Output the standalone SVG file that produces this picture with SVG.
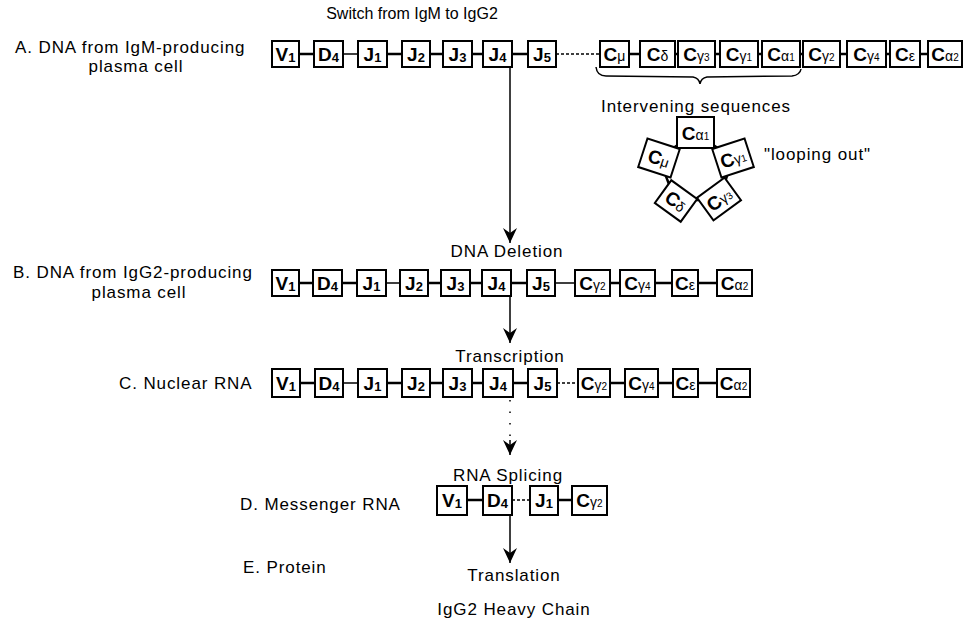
<svg xmlns="http://www.w3.org/2000/svg" width="964" height="621" viewBox="0 0 964 621">
<style>
.bx{fill:#fff;stroke:#000;stroke-width:2}
.bt{font-family:"Liberation Sans",Arial,sans-serif;font-weight:bold;font-size:19px;text-anchor:middle;fill:#000}
.sd{font-size:13px}
.sg{font-size:14px;font-weight:normal}
.sg2{font-size:10px;font-weight:normal}
.lb{font-family:"Liberation Sans",Arial,sans-serif;font-size:17px;letter-spacing:0.9px;fill:#000}
.tt{font-size:16px;letter-spacing:0px}
.mid{text-anchor:middle}
.ln{stroke:#000;stroke-width:2.5;fill:none}
.th{stroke:#000;stroke-width:1.5;fill:none}
.da{stroke:#000;stroke-width:1.5;fill:none;stroke-dasharray:3 2}
.ar{stroke:#000;stroke-width:1.5;fill:none;marker-end:url(#ah)}
.dot{stroke:#000;stroke-width:1.5;fill:none;stroke-dasharray:1.5 10}
</style>
<defs>
<marker id="ah" viewBox="-16 -8 17 16" refX="0" refY="0" markerWidth="17" markerHeight="16" markerUnits="userSpaceOnUse" orient="auto">
<path d="M0,0 L-15,-7 L-10,0 L-15,7 Z" fill="#000"/>
</marker>
</defs>

<g id="labels">
<text class="lb tt mid" x="412" y="19">Switch from IgM to IgG2</text>
<text class="lb" x="15" y="53">A. DNA from IgM-producing</text>
<text class="lb mid" x="136" y="72">plasma cell</text>
<text class="lb" x="13" y="278">B. DNA from IgG2-producing</text>
<text class="lb mid" x="139" y="298">plasma cell</text>
<text class="lb" x="119" y="389">C. Nuclear RNA</text>
<text class="lb" x="240" y="510">D. Messenger RNA</text>
<text class="lb" x="243" y="573">E. Protein</text>
<text class="lb mid" x="696" y="112">Intervening sequences</text>
<text class="lb" x="764" y="160">"looping out"</text>
<text class="lb mid" x="507" y="257">DNA Deletion</text>
<text class="lb mid" x="510" y="362">Transcription</text>
<text class="lb mid" x="508" y="481">RNA Splicing</text>
<text class="lb mid" x="514" y="581">Translation</text>
<text class="lb mid" x="514" y="615">IgG2 Heavy Chain</text>
</g>

<g id="connectors">
<!-- row A -->
<path class="ln" d="M299,54H314M387,54H402M430,54H443M472,54H483M512,54H528M629,54H640M675,54H678M715,54H720M758,54H762M800,54H803M840,54H847M886,54H890M920,54H928"/>
<path class="th" d="M343,54H358"/>
<path class="da" d="M556,54H600"/>
<!-- brace -->
<path class="th" d="M596,67 Q597,76 606,76 L693,77 Q699,78 700,84 Q701,78 707,77 L792,76 Q800,75 801,69"/>
<!-- loop -->
<path class="ln" d="M695,133 L733,158 L719,200 L675,200 L659,158 Z"/>
<!-- row B -->
<path class="ln" d="M299,283H313M342,283H357M428,283H441M470,283H482M511,283H527M610,283H620M655,283H672M698,283H717"/>
<path class="th" d="M386,283H400M555,283H575"/>
<!-- row C -->
<path class="ln" d="M300,383H315M387,383H402M430,383H443M472,383H483M513,383H528M610,383H625M658,383H673M698,383H717"/>
<path class="th" d="M343,383H358"/>
<path class="da" d="M557,383H578"/>
<!-- row D -->
<path class="ln" d="M467,500H483M558,500H572"/>
<path class="da" d="M512,500H530"/>
<!-- arrows -->
<path class="ar" d="M510,68V243"/>
<path class="ar" d="M510,296V343"/>
<path class="dot" d="M510,400V440"/>
<path class="ar" d="M510,440V455"/>
<path class="ar" d="M510,515V563"/>
</g>

<!-- Row A -->
<g id="A-V1"><rect class="bx" x="272" y="41" width="27" height="26"/><text class="bt" x="285.5" y="61">V<tspan class="sd" dy="1">1</tspan></text></g>
<g id="A-D4"><rect class="bx" x="314" y="41" width="29" height="26"/><text class="bt" x="328.5" y="61">D<tspan class="sd" dy="1">4</tspan></text></g>
<g id="A-J1"><rect class="bx" x="358" y="41" width="29" height="26"/><text class="bt" x="372.5" y="61">J<tspan class="sd" dy="1">1</tspan></text></g>
<g id="A-J2"><rect class="bx" x="402" y="41" width="28" height="26"/><text class="bt" x="416" y="61">J<tspan class="sd" dy="1">2</tspan></text></g>
<g id="A-J3"><rect class="bx" x="443" y="41" width="29" height="26"/><text class="bt" x="457.5" y="61">J<tspan class="sd" dy="1">3</tspan></text></g>
<g id="A-J4"><rect class="bx" x="483" y="41" width="29" height="26"/><text class="bt" x="497.5" y="61">J<tspan class="sd" dy="1">4</tspan></text></g>
<g id="A-J5"><rect class="bx" x="528" y="41" width="28" height="26"/><text class="bt" x="542" y="61">J<tspan class="sd" dy="1">5</tspan></text></g>
<g id="A-Cmu"><rect class="bx" x="600" y="41" width="29" height="26"/><text class="bt" x="614.5" y="61">C<tspan class="sg">μ</tspan></text></g>
<g id="A-Cdelta"><rect class="bx" x="640" y="41" width="35" height="26"/><text class="bt" x="657.5" y="61">C<tspan class="sg">δ</tspan></text></g>
<g id="A-Cg3"><rect class="bx" x="678" y="41" width="37" height="26"/><text class="bt" x="696.5" y="61">C<tspan class="sg">γ</tspan><tspan class="sg2">3</tspan></text></g>
<g id="A-Cg1"><rect class="bx" x="720" y="41" width="38" height="26"/><text class="bt" x="739" y="61">C<tspan class="sg">γ</tspan><tspan class="sg2">1</tspan></text></g>
<g id="A-Ca1"><rect class="bx" x="762" y="41" width="38" height="26"/><text class="bt" x="781" y="61">C<tspan class="sg">α</tspan><tspan class="sg2">1</tspan></text></g>
<g id="A-Cg2"><rect class="bx" x="803" y="41" width="37" height="26"/><text class="bt" x="821.5" y="61">C<tspan class="sg">γ</tspan><tspan class="sg2">2</tspan></text></g>
<g id="A-Cg4"><rect class="bx" x="847" y="41" width="39" height="26"/><text class="bt" x="866.5" y="61">C<tspan class="sg">γ</tspan><tspan class="sg2">4</tspan></text></g>
<g id="A-Ceps"><rect class="bx" x="890" y="41" width="30" height="26"/><text class="bt" x="905" y="61">C<tspan class="sg">ε</tspan></text></g>
<g id="A-Ca2"><rect class="bx" x="928" y="41" width="34" height="26"/><text class="bt" x="945" y="61">C<tspan class="sg">α</tspan><tspan class="sg2">2</tspan></text></g>

<!-- Loop -->
<g id="L-Ca1" transform="translate(695.5,132.5)"><rect class="bx" x="-18.5" y="-15.5" width="37" height="31"/><text class="bt" x="0" y="7">C<tspan class="sg">α</tspan><tspan class="sg2">1</tspan></text></g>
<g id="L-Cmu" transform="translate(659,158) rotate(18)"><rect class="bx" x="-17" y="-15" width="34" height="30"/><text class="bt" x="0" y="7">C<tspan class="sg">μ</tspan></text></g>
<g id="L-Cg1" transform="translate(733,158) rotate(-18)"><rect class="bx" x="-17" y="-15" width="34" height="30"/><text class="bt" x="0" y="7">C<tspan class="sg">γ</tspan><tspan class="sg2">1</tspan></text></g>
<g id="L-Cdelta" transform="translate(676,201) rotate(36)"><rect class="bx" x="-16" y="-14" width="32" height="28"/><text class="bt" x="0" y="7">C<tspan class="sg">δ</tspan></text></g>
<g id="L-Cg3" transform="translate(719,199) rotate(-36)"><rect class="bx" x="-17" y="-14" width="34" height="28"/><text class="bt" x="0" y="7">C<tspan class="sg">γ</tspan><tspan class="sg2">3</tspan></text></g>

<!-- Row B -->
<g id="B-V1"><rect class="bx" x="272" y="270" width="27" height="26"/><text class="bt" x="285.5" y="290">V<tspan class="sd" dy="1">1</tspan></text></g>
<g id="B-D4"><rect class="bx" x="313" y="270" width="29" height="26"/><text class="bt" x="327.5" y="290">D<tspan class="sd" dy="1">4</tspan></text></g>
<g id="B-J1"><rect class="bx" x="357" y="270" width="29" height="26"/><text class="bt" x="371.5" y="290">J<tspan class="sd" dy="1">1</tspan></text></g>
<g id="B-J2"><rect class="bx" x="400" y="270" width="28" height="26"/><text class="bt" x="414" y="290">J<tspan class="sd" dy="1">2</tspan></text></g>
<g id="B-J3"><rect class="bx" x="441" y="270" width="29" height="26"/><text class="bt" x="455.5" y="290">J<tspan class="sd" dy="1">3</tspan></text></g>
<g id="B-J4"><rect class="bx" x="482" y="270" width="29" height="26"/><text class="bt" x="496.5" y="290">J<tspan class="sd" dy="1">4</tspan></text></g>
<g id="B-J5"><rect class="bx" x="527" y="270" width="28" height="26"/><text class="bt" x="541" y="290">J<tspan class="sd" dy="1">5</tspan></text></g>
<g id="B-Cg2"><rect class="bx" x="575" y="270" width="35" height="26"/><text class="bt" x="592.5" y="290">C<tspan class="sg">γ</tspan><tspan class="sg2">2</tspan></text></g>
<g id="B-Cg4"><rect class="bx" x="620" y="270" width="35" height="26"/><text class="bt" x="637.5" y="290">C<tspan class="sg">γ</tspan><tspan class="sg2">4</tspan></text></g>
<g id="B-Ceps"><rect class="bx" x="672" y="270" width="26" height="26"/><text class="bt" x="685" y="290">C<tspan class="sg">ε</tspan></text></g>
<g id="B-Ca2"><rect class="bx" x="717" y="270" width="35" height="26"/><text class="bt" x="734.5" y="290">C<tspan class="sg">α</tspan><tspan class="sg2">2</tspan></text></g>

<!-- Row C -->
<g id="C-V1"><rect class="bx" x="272" y="369" width="28" height="28"/><text class="bt" x="286" y="390">V<tspan class="sd" dy="1">1</tspan></text></g>
<g id="C-D4"><rect class="bx" x="315" y="369" width="28" height="28"/><text class="bt" x="329" y="390">D<tspan class="sd" dy="1">4</tspan></text></g>
<g id="C-J1"><rect class="bx" x="358" y="369" width="29" height="28"/><text class="bt" x="372.5" y="390">J<tspan class="sd" dy="1">1</tspan></text></g>
<g id="C-J2"><rect class="bx" x="402" y="369" width="28" height="28"/><text class="bt" x="416" y="390">J<tspan class="sd" dy="1">2</tspan></text></g>
<g id="C-J3"><rect class="bx" x="443" y="369" width="29" height="28"/><text class="bt" x="457.5" y="390">J<tspan class="sd" dy="1">3</tspan></text></g>
<g id="C-J4"><rect class="bx" x="483" y="369" width="30" height="28"/><text class="bt" x="498" y="390">J<tspan class="sd" dy="1">4</tspan></text></g>
<g id="C-J5"><rect class="bx" x="528" y="369" width="29" height="28"/><text class="bt" x="542.5" y="390">J<tspan class="sd" dy="1">5</tspan></text></g>
<g id="C-Cg2"><rect class="bx" x="578" y="369" width="32" height="28"/><text class="bt" x="594" y="390">C<tspan class="sg">γ</tspan><tspan class="sg2">2</tspan></text></g>
<g id="C-Cg4"><rect class="bx" x="625" y="369" width="33" height="28"/><text class="bt" x="641.5" y="390">C<tspan class="sg">γ</tspan><tspan class="sg2">4</tspan></text></g>
<g id="C-Ceps"><rect class="bx" x="673" y="369" width="25" height="28"/><text class="bt" x="685.5" y="390">C<tspan class="sg">ε</tspan></text></g>
<g id="C-Ca2"><rect class="bx" x="717" y="369" width="33" height="28"/><text class="bt" x="733.5" y="390">C<tspan class="sg">α</tspan><tspan class="sg2">2</tspan></text></g>

<!-- Row D -->
<g id="D-V1"><rect class="bx" x="437" y="486" width="30" height="29"/><text class="bt" x="452" y="507">V<tspan class="sd" dy="1">1</tspan></text></g>
<g id="D-D4"><rect class="bx" x="483" y="486" width="29" height="29"/><text class="bt" x="497.5" y="507">D<tspan class="sd" dy="1">4</tspan></text></g>
<g id="D-J1"><rect class="bx" x="530" y="486" width="28" height="29"/><text class="bt" x="544" y="507">J<tspan class="sd" dy="1">1</tspan></text></g>
<g id="D-Cg2"><rect class="bx" x="572" y="486" width="35" height="29"/><text class="bt" x="589.5" y="507">C<tspan class="sg">γ</tspan><tspan class="sg2">2</tspan></text></g>
</svg>
